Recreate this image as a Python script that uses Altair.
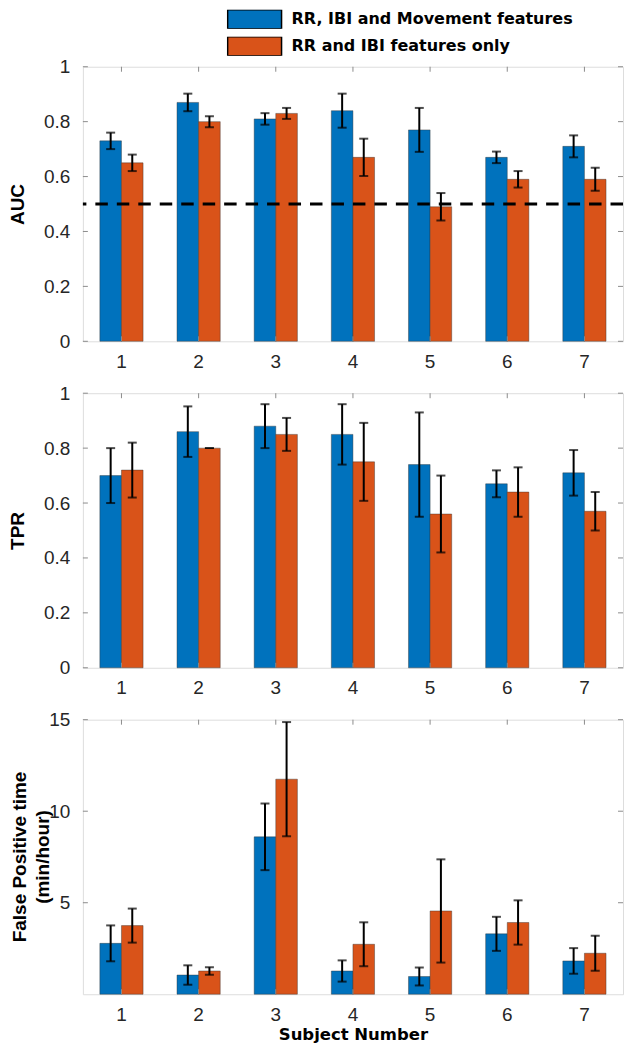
import altair as alt
import pandas as pd

subjects = ["1", "2", "3", "4", "5", "6", "7"]
series = ["RR, IBI and Movement features", "RR and IBI features only"]
colors = ["#0072BD", "#D95319"]

auc_full = [0.73, 0.87, 0.81, 0.84, 0.77, 0.67, 0.71]
auc_full_err = [0.03, 0.032, 0.021, 0.062, 0.08, 0.021, 0.04]
auc_rr = [0.65, 0.80, 0.83, 0.67, 0.49, 0.59, 0.59]
auc_rr_err = [0.03, 0.02, 0.02, 0.068, 0.05, 0.03, 0.042]
auc_chance = [0.5]

tpr_full = [0.70, 0.86, 0.88, 0.85, 0.74, 0.67, 0.71]
tpr_full_err = [0.10, 0.092, 0.08, 0.11, 0.19, 0.049, 0.083]
tpr_rr = [0.72, 0.80, 0.85, 0.75, 0.56, 0.64, 0.57]
tpr_rr_err = [0.10, 0.0, 0.06, 0.142, 0.14, 0.09, 0.07]

fp_full = [2.78, 1.05, 8.6, 1.27, 0.97, 3.3, 1.82]
fp_full_err = [0.98, 0.53, 1.82, 0.58, 0.49, 0.93, 0.70]
fp_rr = [3.75, 1.27, 11.75, 2.73, 4.55, 3.92, 2.24]
fp_rr_err = [0.93, 0.21, 3.12, 1.20, 2.82, 1.21, 0.96]
fp_title_lines = ["False Positive time", "(min/hour)"]

rate_ticks = [0, 0.2, 0.4, 0.6, 0.8, 1]
fp_ticks = [5, 10, 15]

W, H = 541, 275
FONT = "Liberation Sans"
WIDE = "DejaVu Sans"
FRAME = "#8c8c8c"
TXT = "#262626"


def long_df(full, full_err, rr, rr_err):
    rows = []
    for s, vals, errs in ((series[0], full, full_err), (series[1], rr, rr_err)):
        for subj, v, e in zip(subjects, vals, errs):
            rows.append({"subject": subj, "series": s, "value": v,
                         "lo": v - e, "hi": v + e})
    return pd.DataFrame(rows)


def panel(full, full_err, rr, rr_err, title, domain, ticks, title_x,
          legend=False, xtitle=False, ref=None, title_lines=None):
    df = long_df(full, full_err, rr, rr_err)
    x_axis = alt.Axis(
        title="Subject Number" if xtitle else None, labelAngle=0,
        ticks=False, tickSize=0, domain=False, grid=False, labelPadding=11,
        labelFont=FONT, labelFontSize=19, labelColor=TXT,
        titleFont=WIDE, titleFontSize=16.5, titleFontWeight="bold",
        titleColor="black", titlePadding=2)
    xs = alt.Scale(domain=subjects, paddingInner=0.44, paddingOuter=0.22)
    X = alt.X("subject:N", scale=xs, axis=x_axis, sort=subjects)
    XO = alt.XOffset("series:N", sort=series,
                     scale=alt.Scale(domain=series, paddingInner=0, paddingOuter=0))
    ys = alt.Scale(domain=domain, nice=False, zero=True)
    y_axis = alt.Axis(
        title=title, values=ticks, format=".1~f", ticks=False, tickSize=0,
        domain=False, grid=False, labelPadding=13, labelFont=FONT,
        labelFontSize=19, labelColor=TXT, titleFont=FONT, titleFontSize=19,
        titleFontWeight="bold", titleColor="black", titleX=title_x,
        titleY=H / 2, titleBaseline="middle")

    def Y(field):
        return alt.Y(field, scale=ys, axis=y_axis)

    if legend:
        leg = alt.Legend(
            title=None, orient="none", legendX=144, legendY=-57,
            symbolType="M-1,-0.352H1V0.352H-1Z", symbolSize=2916,
            symbolStrokeColor="black", symbolStrokeWidth=1.5, symbolOpacity=1,
            labelFont=WIDE, labelFontSize=16, labelFontWeight="bold",
            labelColor="black", labelOffset=9, rowPadding=8, clipHeight=19,
            labelLimit=400, padding=0)
    else:
        leg = None
    color = alt.Color("series:N", sort=series,
                      scale=alt.Scale(domain=series, range=colors), legend=leg)

    base = alt.Chart(df)
    bars = base.mark_bar(stroke="#333333", strokeWidth=0.7, strokeOpacity=0.6).encode(
        x=X, xOffset=XO, y=Y("value:Q"), color=color)
    err = base.mark_rule(color="black", strokeWidth=2).encode(
        x=X, xOffset=XO, y=Y("lo:Q"), y2="hi:Q")
    cap_lo = base.mark_tick(color="black", thickness=2, size=9).encode(
        x=X, xOffset=XO, y=Y("lo:Q"))
    cap_hi = base.mark_tick(color="black", thickness=2, size=9).encode(
        x=X, xOffset=XO, y=Y("hi:Q"))

    xt = alt.Chart(pd.DataFrame({"subject": subjects}))
    top_t = xt.mark_rule(color=FRAME, strokeWidth=1).encode(
        x=X, y=alt.value(0), y2=alt.value(5))
    bot_t = xt.mark_rule(color=FRAME, strokeWidth=1).encode(
        x=X, y=alt.value(H), y2=alt.value(H - 5))
    yt = alt.Chart(pd.DataFrame({"tick": ticks}))
    left_t = yt.mark_rule(color=FRAME, strokeWidth=1).encode(
        y=Y("tick:Q"), x=alt.value(0), x2=alt.value(5))
    right_t = yt.mark_rule(color=FRAME, strokeWidth=1).encode(
        y=Y("tick:Q"), x=alt.value(W - 5), x2=alt.value(W))

    layers = [bars]
    if ref is not None:
        dash = alt.Chart(pd.DataFrame({"ref": ref})).mark_rule(
            color="black", strokeWidth=3, strokeDash=[12.5, 9]).encode(y=Y("ref:Q"))
        layers.append(dash)
    layers += [err, cap_lo, cap_hi, top_t, bot_t, left_t, right_t]
    if title_lines:
        for i, line in enumerate(title_lines):
            layers.append(
                alt.Chart(pd.DataFrame({"line": [line]})).mark_text(
                    angle=270, font=FONT, fontSize=19, fontWeight="bold",
                    color="black", align="center", baseline="middle").encode(
                    text="line:N", x=alt.value(title_x + 3 + 23 * i),
                    y=alt.value(H / 2)))
    return alt.layer(*layers).properties(width=W, height=H)


p1 = panel(auc_full, auc_full_err, auc_rr, auc_rr_err, "AUC", [0, 1],
           rate_ticks, -65.5, legend=True, ref=auc_chance)
p2 = panel(tpr_full, tpr_full_err, tpr_rr, tpr_rr_err, "TPR", [0, 1],
           rate_ticks, -65.5)
p3 = panel(fp_full, fp_full_err, fp_rr, fp_rr_err, None, [0, 15], fp_ticks,
           -65.5, xtitle=True, title_lines=fp_title_lines)

chart = alt.vconcat(p1, p2, p3, spacing=11).resolve_legend(
    color="independent").properties(padding=0).configure_view(
    stroke=FRAME, strokeWidth=1.2).configure(background="white", padding=0)

chart.save("out.html", embed_options={"renderer": "svg", "actions": False})
